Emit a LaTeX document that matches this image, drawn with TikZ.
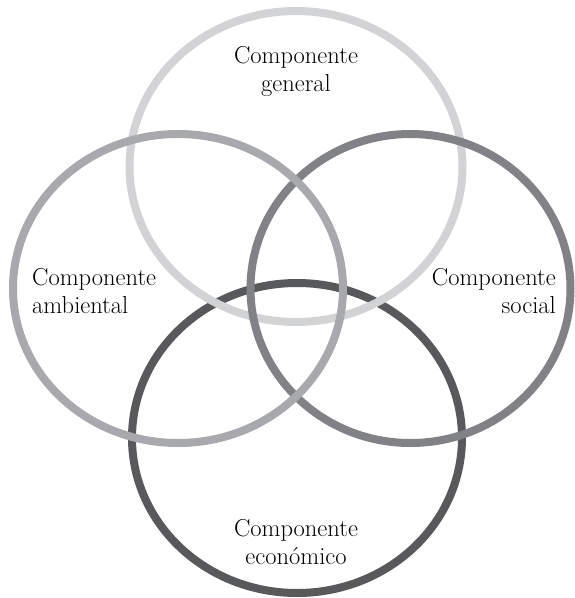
\documentclass[tikz,border=0pt]{standalone}
\usepackage{tikz}
\definecolor{grisgeneral}{HTML}{D1D3D4}
\definecolor{grisambiental}{HTML}{A7A9AC}
\definecolor{grissocial}{HTML}{808285}
\definecolor{griseconomico}{HTML}{58595B}

\begin{document}
\begin{tikzpicture}[x=1pt,y=-1pt,
  ring/.style={line width=8pt},
  comp/.style={inner sep=0pt,anchor=base,font=\fontsize{24.5}{28}\selectfont}]
\useasboundingbox (0,0) rectangle (574,598);
% circulos
\draw[ring,griseconomico](297,438)ellipse[x radius=165,y radius=155];
\draw[ring,grisgeneral](296,166.5)ellipse[x radius=166.5,y radius=155.5];
\draw[ring,grissocial](410.5,288.5)ellipse[x radius=160,y radius=154.5];
\draw[ring,grisambiental](178,288.5)ellipse[x radius=165,y radius=154.5];
% textos
\node[comp,align=center] (general) at (296,91) {Componente\\general};
\node[comp,align=left,anchor=base west] (ambiental) at (32,313.5) {Componente\\ambiental};
\node[comp,align=right,anchor=base east] (social) at (556,313.5) {Componente\\social};
\node[comp,align=center] (economico) at (296,564.5) {Componente\\económico};
\end{tikzpicture}
\end{document}
